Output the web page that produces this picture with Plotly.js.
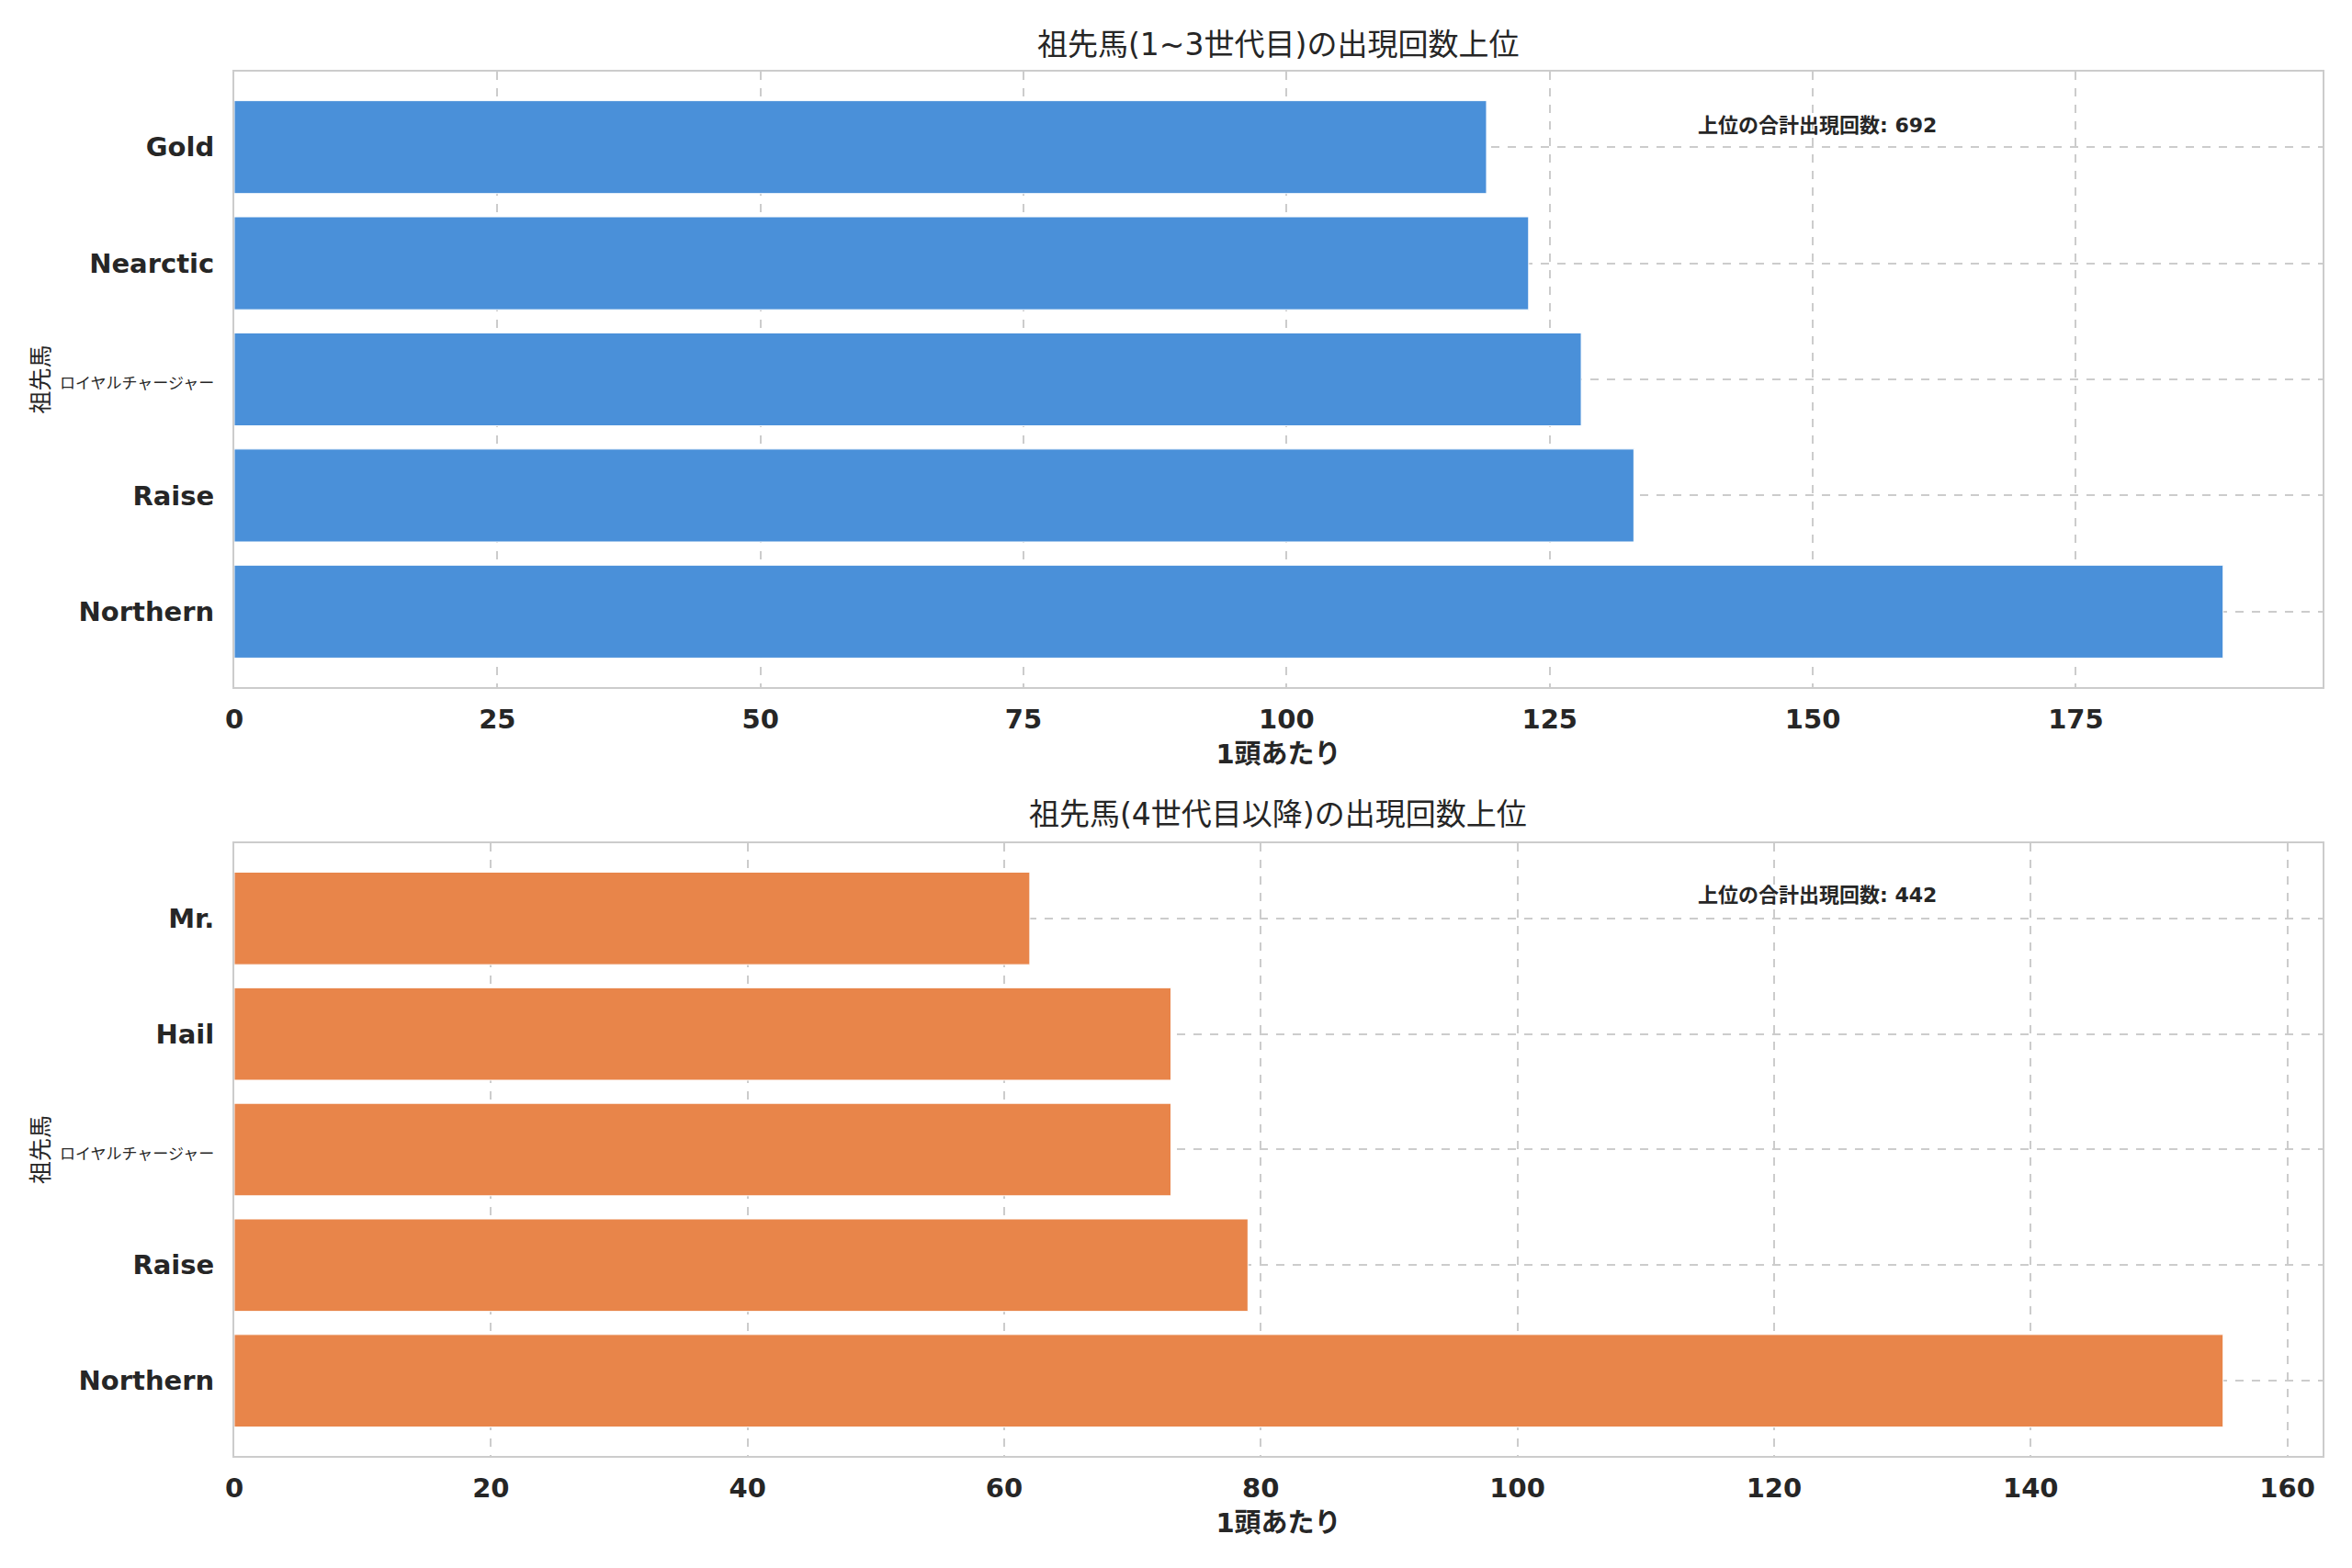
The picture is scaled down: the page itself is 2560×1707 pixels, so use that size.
<!DOCTYPE html>
<html>
<head>
<meta charset="utf-8">
<script src="https://cdn.plot.ly/plotly-3.0.1.min.js"></script>
<style>
  html, body { margin: 0; padding: 0; background: #fff; }
  #chart { width: 2560px; height: 1707px; }
</style>
</head>
<body>
<div id="chart"></div>
<script>
// top 5 ancestors, generations 1-3 (bottom to top)
var namesNear = ["Northern", "Raise", "ロイヤルチャージャー", "Nearctic", "Gold"];
var countsNear = [189, 133, 128, 123, 119];

// top 5 ancestors, generation 4 and beyond
var namesFar = ["Northern", "Raise", "ロイヤルチャージャー", "Hail", "Mr."];
var countsFar = [155, 79, 73, 73, 62];

var xTicksNear = [0, 25, 50, 75, 100, 125, 150, 175];
var xTicksFar = [0, 20, 40, 60, 80, 100, 120, 140, 160];

var titleNear = "祖先馬(1~3世代目)の出現回数上位";
var titleFar = "祖先馬(4世代目以降)の出現回数上位";
var xLabel = "1頭あたり";
var yLabel = "祖先馬";
var totalLabel = "上位の合計出現回数";

var FONT = "DejaVu Sans, Noto Sans CJK JP, sans-serif";
var INK = "#262626";

function sum(a) {
    var s = 0;
    for (var i = 0; i < a.length; i++) s += a[i];
    return s;
}

// long japanese names get a smaller font so they fit left of the axis
function tickText(names) {
    return names.map(function (n) {
        if (/[^\x00-\x7f]/.test(n)) {
            return '<span style="font-size:17px;font-weight:normal">' + n + '</span>';
        }
        return n;
    });
}

var traces = [
    {
        type: "bar", orientation: "h",
        x: countsNear, y: namesNear,
        xaxis: "x", yaxis: "y",
        width: 0.8,
        marker: {color: "#4A90D9", line: {color: "#ffffff", width: 1}},
        hoverinfo: "x+y"
    },
    {
        type: "bar", orientation: "h",
        x: countsFar, y: namesFar,
        xaxis: "x2", yaxis: "y2",
        width: 0.8,
        marker: {color: "#E8854A", line: {color: "#ffffff", width: 1}},
        hoverinfo: "x+y"
    }
];

function xAxis(ticks, maxVal) {
    return {
        domain: [0.0996, 0.9875],
        range: [0, maxVal * 1.05],
        tickvals: ticks,
        ticks: "",
        ticklabelstandoff: 8,
        tickfont: {family: FONT, size: 29, color: INK, weight: "bold"},
        showgrid: true, gridcolor: "#cccccc", gridwidth: 2, griddash: "dash",
        showline: true, mirror: true, linecolor: "#cccccc", linewidth: 2,
        zeroline: false,
        title: {text: xLabel, standoff: 12,
                font: {family: FONT, size: 29, color: INK, weight: "bold"}}
    };
}

function yAxis(names, domain) {
    return {
        domain: domain,
        type: "category",
        categoryorder: "array",
        categoryarray: names,
        tickvals: names,
        ticktext: tickText(names),
        range: [-0.65, 4.65],
        ticks: "",
        ticklabelstandoff: 14,
        tickfont: {family: FONT, size: 29, color: INK, weight: "bold"},
        showgrid: true, gridcolor: "#cccccc", gridwidth: 2, griddash: "dash",
        showline: true, mirror: true, linecolor: "#cccccc", linewidth: 2,
        zeroline: false,
        title: {text: yLabel, standoff: 4,
                font: {family: FONT, size: 25, color: INK}}
    };
}

var xa1 = xAxis(xTicksNear, Math.max.apply(null, countsNear));
var xa2 = xAxis(xTicksFar, Math.max.apply(null, countsFar));
xa1.anchor = "y";
xa2.anchor = "y2";
var ya1 = yAxis(namesNear, [0.5618, 0.9543]);
var ya2 = yAxis(namesFar, [0.0715, 0.4622]);
ya1.anchor = "x";
ya2.anchor = "x2";

var layout = {
    width: 2560, height: 1707,
    margin: {l: 0, r: 0, t: 0, b: 0},
    paper_bgcolor: "#ffffff",
    plot_bgcolor: "#ffffff",
    showlegend: false,
    bargap: 0.2,
    xaxis: xa1, yaxis: ya1,
    xaxis2: xa2, yaxis2: ya2,
    annotations: [
        {text: titleNear, xref: "paper", yref: "paper", x: 0.5435, y: 0.9713,
         xanchor: "center", yanchor: "middle", showarrow: false,
         font: {family: FONT, size: 33, color: INK}},
        {text: titleFar, xref: "paper", yref: "paper", x: 0.5435, y: 0.4804,
         xanchor: "center", yanchor: "middle", showarrow: false,
         font: {family: FONT, size: 33, color: INK}},
        {text: totalLabel + ": " + sum(countsNear),
         xref: "x domain", yref: "y domain", x: 0.70, y: 0.912,
         xanchor: "left", yanchor: "middle", showarrow: false,
         font: {family: FONT, size: 22, color: INK, weight: "bold"}},
        {text: totalLabel + ": " + sum(countsFar),
         xref: "x2 domain", yref: "y2 domain", x: 0.70, y: 0.915,
         xanchor: "left", yanchor: "middle", showarrow: false,
         font: {family: FONT, size: 22, color: INK, weight: "bold"}}
    ]
};

Plotly.newPlot("chart", traces, layout, {displayModeBar: false, staticPlot: true});
</script>
</body>
</html>
